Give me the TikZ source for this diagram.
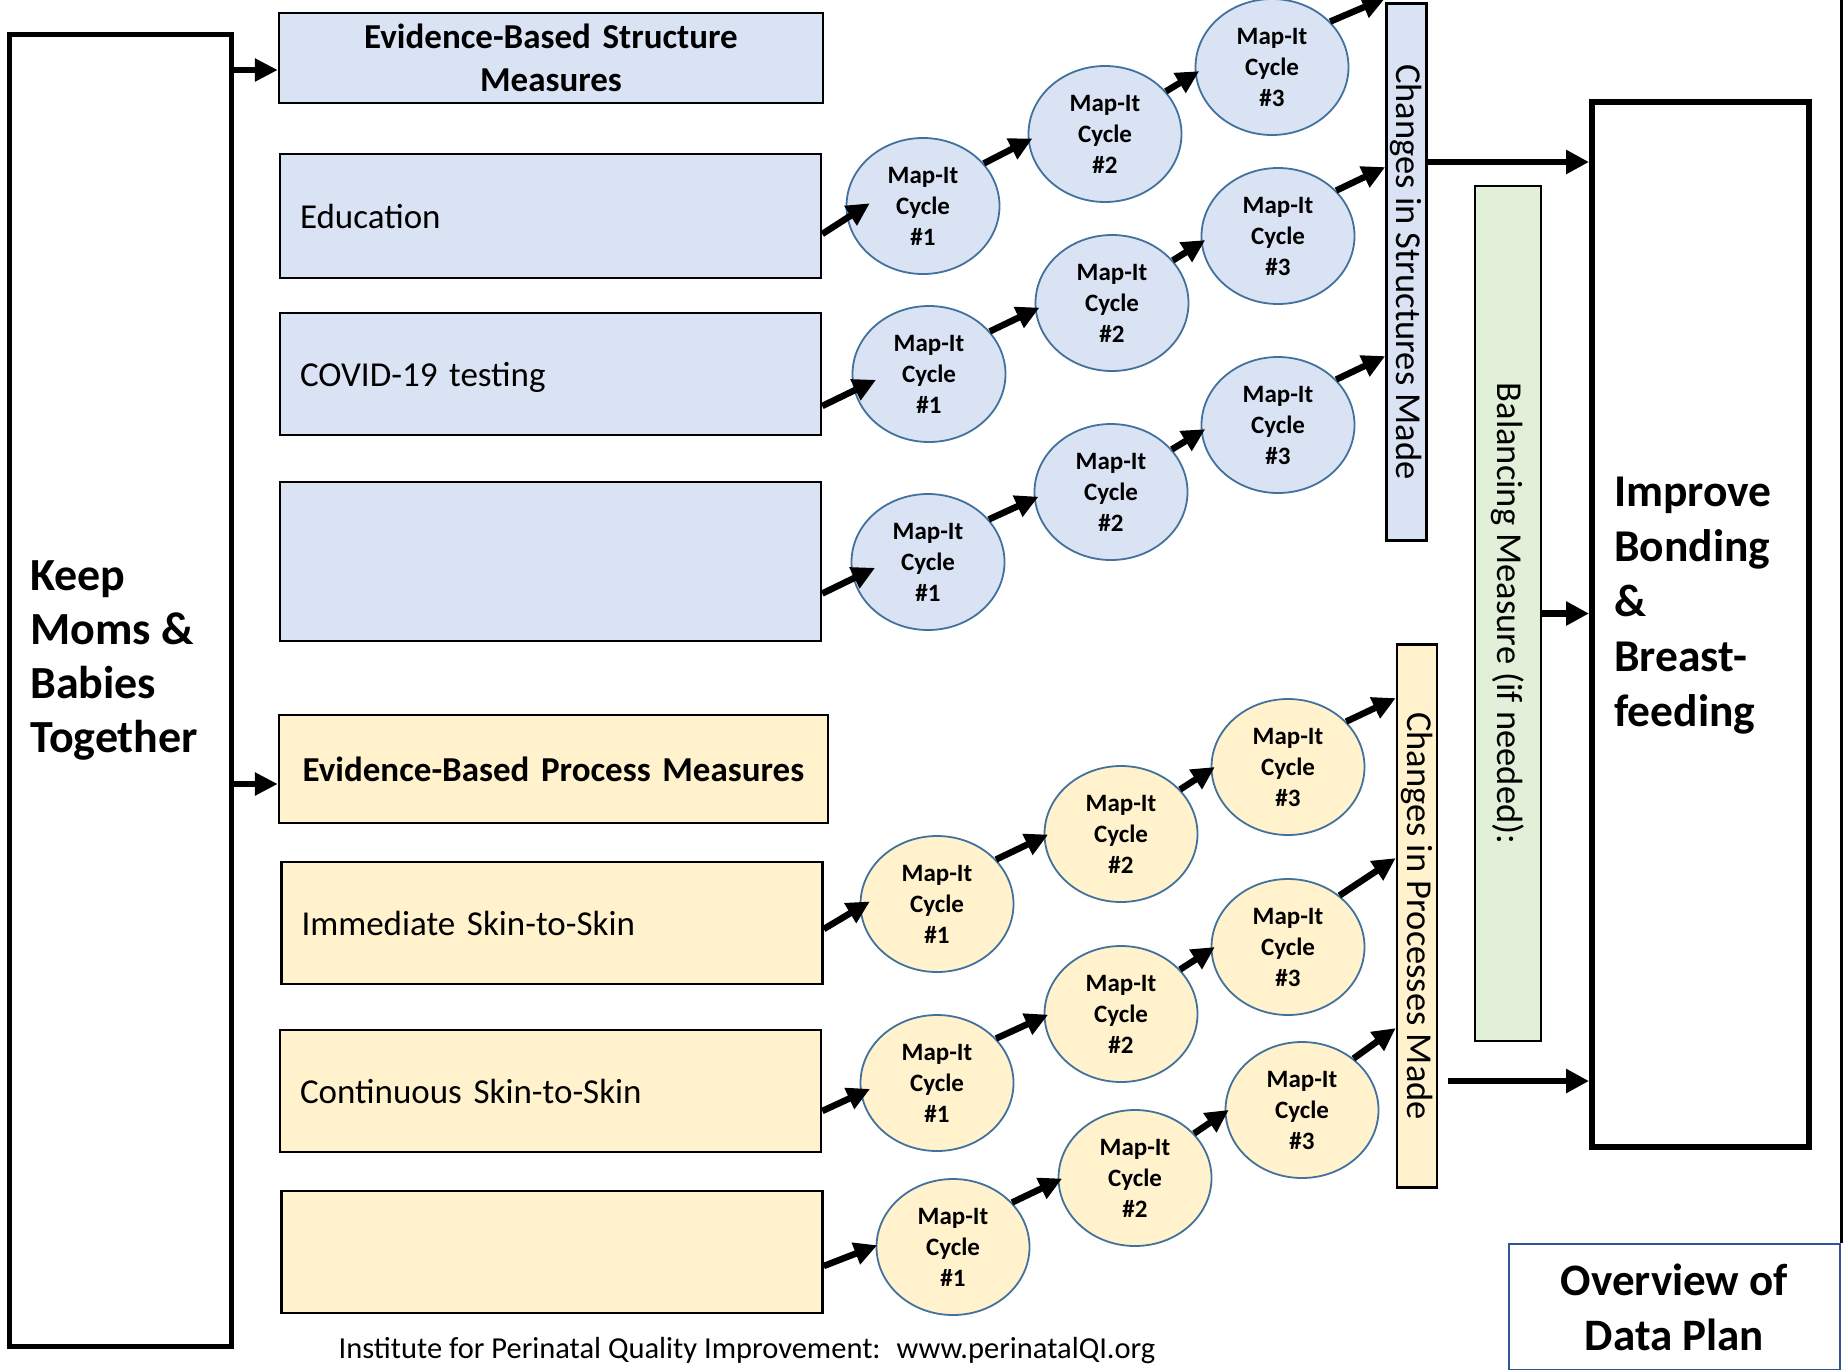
\documentclass[tikz,border=0pt]{standalone}
\usepackage{fontspec}
\setmainfont{Carlito}
\usetikzlibrary{positioning,arrows.meta,shapes.geometric}

\definecolor{strfill}{HTML}{DAE3F3}
\definecolor{profill}{HTML}{FFF2CC}
\definecolor{balfill}{HTML}{E2F0D9}
\definecolor{circline}{HTML}{41719C}
\definecolor{ovwline}{HTML}{2F5597}

\begin{document}
\begin{tikzpicture}[
    x=1pt, y=-1pt,
    measure/.style={draw, line width=2.5pt, inner xsep=20pt, inner ysep=0pt, text width=501pt, minimum width=541pt, minimum height=122pt, align=left, font=\fontsize{35}{43}\selectfont},
    header/.style={measure, align=center, font=\bfseries\fontsize{35}{43}\selectfont},
    smeasure/.style={measure, text depth=0pt, fill=strfill},
    pmeasure/.style={measure, text depth=0pt, fill=profill},
    mapit/.style={ellipse, draw=circline, line width=1.8pt, minimum width=153pt, minimum height=136pt, inner sep=0pt, align=center, font=\bfseries\fontsize{25}{31}\selectfont},
    smap/.style={mapit, fill=strfill},
    pmap/.style={mapit, fill=profill},
    bar/.style={draw, line width=2.5pt, minimum width=40pt, inner sep=0pt, font=\fontsize{36.5}{43}\selectfont},
    bigbox/.style={draw, line width=5pt, inner sep=0pt},
    bigtxt/.style={inner sep=0pt, align=left, font=\bfseries\fontsize{46}{54}\selectfont},
    arr/.style={line width=6.5pt, shorten >=-5pt, -{Triangle[length=23pt,width=22pt]}},
    bigarr/.style={line width=6.5pt, -{Triangle[length=23pt,width=23pt]}}
    ]
    \useasboundingbox (0,0) rectangle (1844,1369);

    %% Aim on the left
    \node[bigbox, minimum width=222pt, minimum height=1312pt](keep) at (120.5,690) {};
    \node[bigtxt, right=23pt of keep.west, yshift=30pt](keeptxt) {Keep\\Moms \&\\Babies\\Together};

    %% Structure measures
    \node[header, fill=strfill, text width=504pt, minimum height=90pt](sbm) at (551,58) {Evidence-Based Structure\\Measures};
    \node[smeasure, minimum height=124pt](edu) at (550.5,216) {Education};
    \node[smeasure](cov) at (550.5,374) {COVID-19 testing};
    \node[smeasure, minimum height=159pt](sblank) at (550.5,561.5) {};
    \draw[arr, shorten >=0pt] ([yshift=-12pt]sbm.west -| keep.east) -- ([yshift=-12pt]sbm.west);

    %% Process measures
    \node[header, fill=profill, text width=509pt, minimum height=108pt](pbm) at (553.5,769) {Evidence-Based Process Measures};
    \node[pmeasure](skin1) at (552,923) {Immediate Skin-to-Skin};
    \node[pmeasure](skin2) at (550.5,1091) {Continuous Skin-to-Skin};
    \node[pmeasure](pblank) at (552,1252) {};
    \draw[arr, shorten >=0pt] ([yshift=-15pt]pbm.west -| keep.east) -- ([yshift=-15pt]pbm.west);

    %% Changes made, balancing measure
    \node[bar, fill=strfill, minimum height=537pt](sbar) at (1406.5,272) {\rotatebox{-90}{Changes in Structures Made}};
    \node[bar, fill=balfill, minimum width=66pt, minimum height=855pt](bal) at (1508,613.5) {\rotatebox{-90}{Balancing Measure (if needed):}};
    \node[bar, fill=profill, minimum height=543pt](pbar) at (1417,916) {\rotatebox{-90}{Changes in Processes Made}};

    %% Map-It cycles, structures
    \node[smap](s1c1) at (923,206) {Map-It\\Cycle\\\#1};
    \node[smap](s1c2) at (1105,134) {Map-It\\Cycle\\\#2};
    \node[smap](s1c3) at (1272,67) {Map-It\\Cycle\\\#3};
    \node[smap](s2c1) at (929,374) {Map-It\\Cycle\\\#1};
    \node[smap](s2c2) at (1112,303) {Map-It\\Cycle\\\#2};
    \node[smap](s2c3) at (1278,236) {Map-It\\Cycle\\\#3};
    \node[smap](s3c1) at (928,562) {Map-It\\Cycle\\\#1};
    \node[smap](s3c2) at (1111,492) {Map-It\\Cycle\\\#2};
    \node[smap](s3c3) at (1278,425) {Map-It\\Cycle\\\#3};

    \draw[arr] ([yshift=-18pt]edu.east) -- ([xshift=20pt]s1c1.west);
    \draw[arr] (s1c1.35) -- (s1c2.185);
    \draw[arr] (s1c2.35) -- (s1c3.185);
    \draw[arr, shorten >=0pt] (s1c3.38) -- (sbar.west |- s1c3.north);
    \draw[arr] ([yshift=-32pt]cov.east) -- ([xshift=20pt,yshift=-8pt]s2c1.west);
    \draw[arr] (s2c1.35) -- (s2c2.185);
    \draw[arr] (s2c2.35) -- (s2c3.185);
    \draw[arr, shorten >=0pt] (s2c3.38) -- (sbar.west |- s2c3.north);
    \draw[arr] ([yshift=-32pt]sblank.east) -- ([xshift=20pt,yshift=-8pt]s3c1.west);
    \draw[arr] (s3c1.35) -- (s3c2.185);
    \draw[arr] (s3c2.35) -- (s3c3.185);
    \draw[arr, shorten >=0pt] (s3c3.38) -- (sbar.west |- s3c3.north);

    %% Map-It cycles, processes
    \node[pmap](p1c1) at (937,904) {Map-It\\Cycle\\\#1};
    \node[pmap](p1c2) at (1121,834) {Map-It\\Cycle\\\#2};
    \node[pmap](p1c3) at (1288,767) {Map-It\\Cycle\\\#3};
    \node[pmap](p2c1) at (937,1083) {Map-It\\Cycle\\\#1};
    \node[pmap](p2c2) at (1121,1014) {Map-It\\Cycle\\\#2};
    \node[pmap](p2c3) at (1288,947) {Map-It\\Cycle\\\#3};
    \node[pmap](p3c1) at (953,1247) {Map-It\\Cycle\\\#1};
    \node[pmap](p3c2) at (1135,1178) {Map-It\\Cycle\\\#2};
    \node[pmap](p3c3) at (1302,1110) {Map-It\\Cycle\\\#3};

    \draw[arr] ([yshift=-6pt]skin1.east) -- ([xshift=6pt]p1c1.west);
    \draw[arr] (p1c1.37) -- (p1c2.182);
    \draw[arr] (p1c2.37) -- (p1c3.182);
    \draw[arr, shorten >=0pt] (p1c3.38) -- (pbar.west |- p1c3.north);
    \draw[arr] ([yshift=-20pt]skin2.east) -- ([xshift=6pt,yshift=-8pt]p2c1.west);
    \draw[arr] (p2c1.37) -- (p2c2.182);
    \draw[arr] (p2c2.37) -- (p2c3.182);
    \draw[arr, shorten >=0pt] (p2c3.45) -- ([yshift=20pt]pbar.west |- p2c3.north);
    \draw[arr] ([yshift=-14pt]pblank.east) -- ([xshift=-3pt]p3c1.west);
    \draw[arr] (p3c1.37) -- (p3c2.182);
    \draw[arr] (p3c2.37) -- (p3c3.182);
    \draw[arr, shorten >=0pt] (p3c3.45) -- ([yshift=13pt]pbar.west |- p3c3.north);

    %% Outcome on the right
    \node[bigbox, line width=6pt, minimum width=217pt, minimum height=1045pt](improve) at (1700.5,624.5) {};
    \node[bigtxt, font=\bfseries\fontsize{45.5}{55}\selectfont, right=25pt of improve.west, yshift=19pt](improvetxt) {Improve\\Bonding\\\&\\Breast-\\feeding};
    \draw[bigarr] ([yshift=110pt]sbar.east) -- ([yshift=110pt]sbar.east -| improve.west);
    \draw[bigarr] (bal.east) -- (bal.east -| improve.west);
    \draw[bigarr] ([xshift=10pt,yshift=-165pt]pbar.east) -- ([yshift=-165pt]pbar.east -| improve.west);

    %% Title box and footer
    \node[draw=ovwline, line width=2.5pt, minimum width=331pt, minimum height=126pt, align=center, font=\bfseries\fontsize{45}{55}\selectfont](ovw) at (1674.5,1307) {Overview of\\Data Plan};
    \draw[line width=3pt] (ovw.north east) -- ++(0,-1260);
    \node[inner sep=0pt, font=\fontsize{30.5}{36}\selectfont](footer) at (747,1351) {Institute for Perinatal Quality Improvement:~ www.perinatalQI.org};
\end{tikzpicture}
\end{document}
